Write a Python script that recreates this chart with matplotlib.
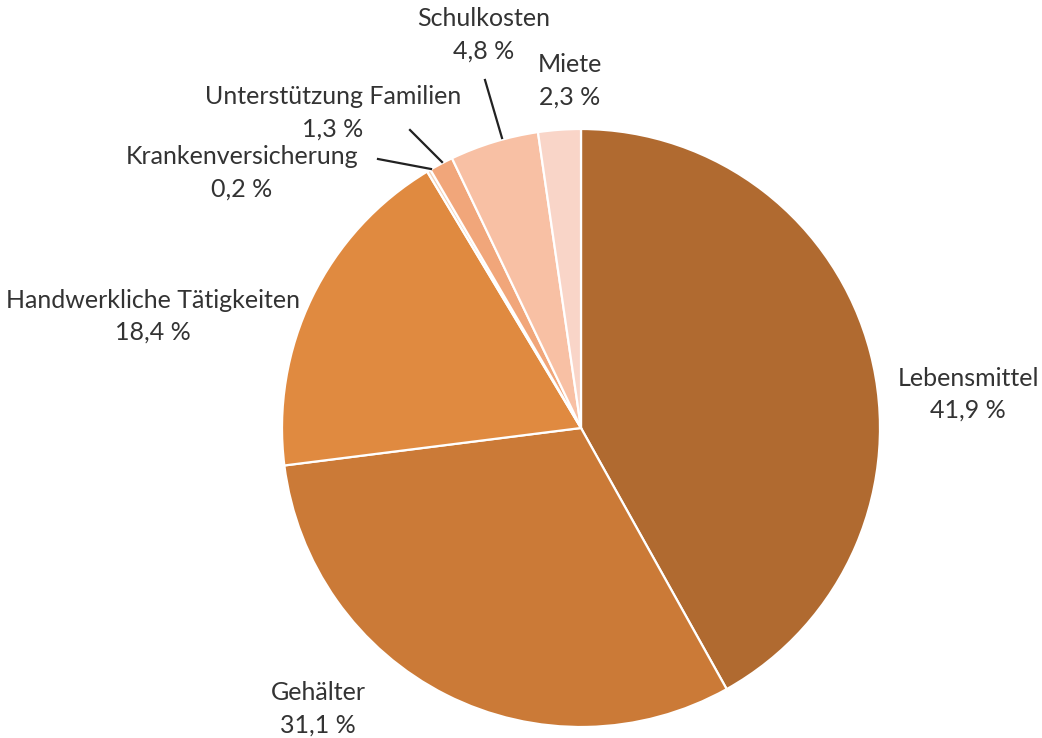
import matplotlib.pyplot as plt

categories = ['Lebensmittel', 'Gehälter', 'Handwerkliche Tätigkeiten',
              'Krankenversicherung', 'Unterstützung Familien', 'Schulkosten', 'Miete']
shares = [41.9, 31.1, 18.4, 0.2, 1.3, 4.8, 2.3]
pct_labels = ['41,9 %', '31,1 %', '18,4 %', '0,2 %', '1,3 %', '4,8 %', '2,3 %']
colors = ['#B06A30', '#CB7A37', '#E08A40', '#F3D2B8', '#F1A67A', '#F8C0A4', '#F9D5C8']

# label centres in pixel coordinates (x, y from top)
label_pos = [(968, 378), (318, 693), (153, 300), (242, 157), (333, 97), (484, 19), (570, 65)]
# leader lines for the small slices: (start, end) in pixels
leaders = {3: ((378, 159), (431, 169)), 4: ((410, 130), (442, 162)), 5: ((485, 80), (502, 138))}

W, H = 1042, 738
plt.rcParams['font.family'] = ['Lato', 'DejaVu Sans']

fig = plt.figure(figsize=(W / 100, H / 100), dpi=100)
ax = fig.add_axes([0, 0, 1, 1])

ax.pie(shares, colors=colors, startangle=90, counterclock=False,
       center=(581, H - 428), radius=299, frame=True,
       wedgeprops=dict(edgecolor='white', linewidth=1.6))
ax.set_xlim(0, W)
ax.set_ylim(0, H)
ax.set_aspect('equal')
ax.axis('off')

text_color = '#333333'
for i, (name, pct) in enumerate(zip(categories, pct_labels)):
    x, y = label_pos[i]
    ax.text(x, H - y, name, ha='center', va='center', fontsize=18, color=text_color)
    ax.text(x, H - y - 32, pct, ha='center', va='center', fontsize=18, color=text_color)

for (x0, y0), (x1, y1) in leaders.values():
    ax.plot([x0, x1], [H - y0, H - y1], color='#222222', lw=1.6)

fig.savefig('out.png', dpi=100)
